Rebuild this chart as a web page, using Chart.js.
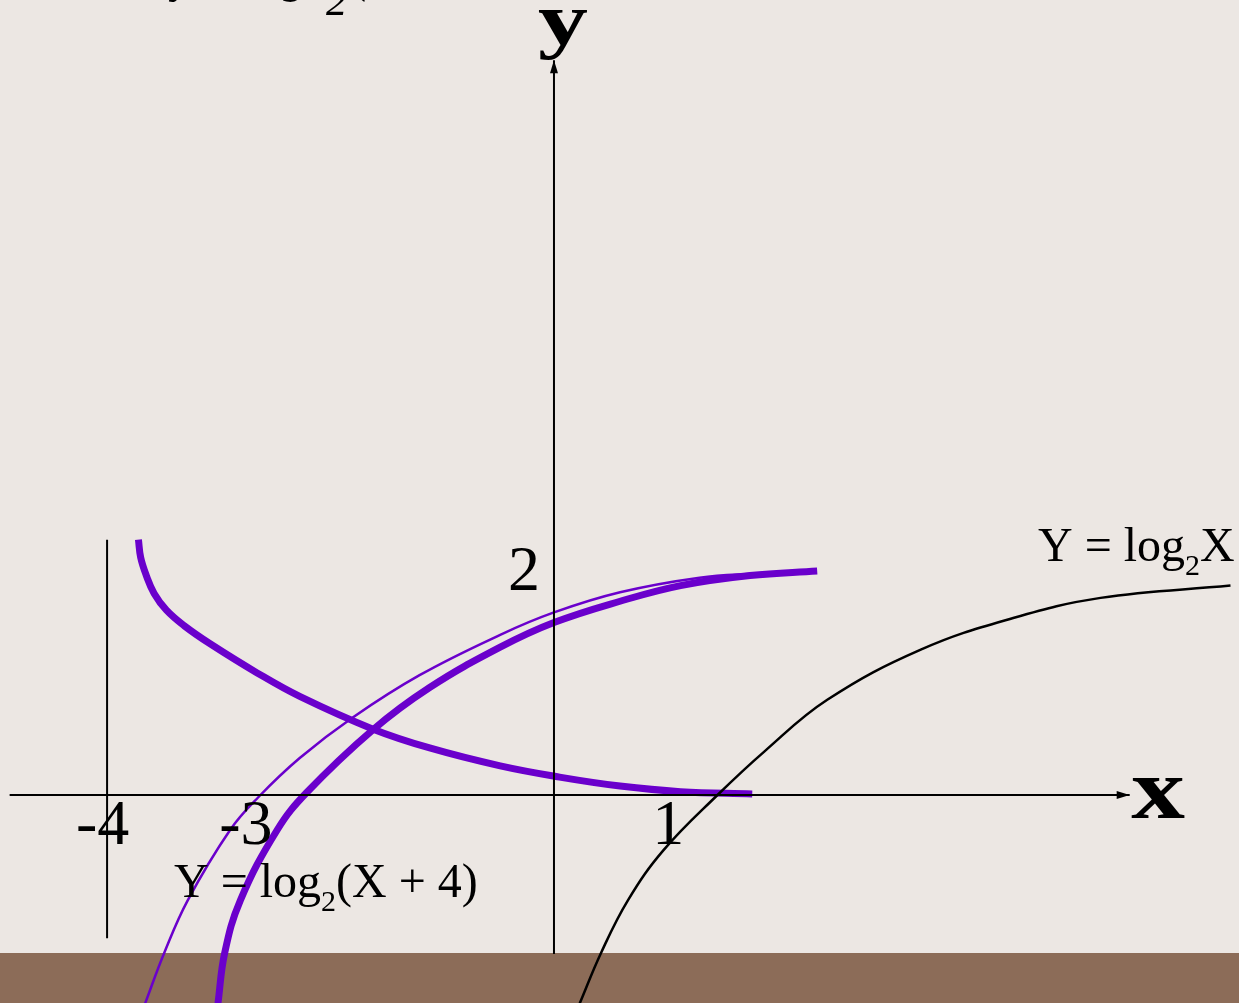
<!DOCTYPE html>
<html>
<head>
<meta charset="utf-8">
<script src="https://cdn.jsdelivr.net/npm/chart.js@4.4.1/dist/chart.umd.min.js"></script>
<style>
  html, body { margin: 0; padding: 0; background: #ece7e3; }
  canvas { display: block; }
</style>
</head>
<body>
<canvas id="logChart" width="1239" height="1003"></canvas>
<script>
// curves, in axis units (1 unit = one tick step)
const blackX = [0.23, 0.42, 0.66, 0.98, 1.46, 1.88, 2.44, 3.28, 4.10, 4.88, 6.04];
const blackY = [-1.86, -1.41, -0.94, -0.49, 0.00, 0.39, 0.85, 1.30, 1.58, 1.76, 1.87];

const thickX = [-3.00, -2.94, -2.80, -2.47, -2.21, -1.62, -1.11, -0.48, 0.00, 0.59, 1.13, 1.75, 2.35];
const thickY = [-1.86, -1.41, -0.94, -0.31, 0.02, 0.58, 0.96, 1.32, 1.54, 1.73, 1.87, 1.96, 2.00];

const thinX = [-3.65, -3.48, -3.27, -2.89, -2.64, -2.27, -1.80, -1.20, -0.48, 0.00, 0.59, 1.30, 1.84];
const thinY = [-1.86, -1.41, -0.94, -0.31, -0.02, 0.33, 0.69, 1.07, 1.43, 1.63, 1.81, 1.94, 1.98];

const fallX = [-3.71, -3.69, -3.64, -3.57, -3.46, -3.30, -3.07, -2.65, -2.27, -1.62, -1.11, -0.48, 0.05, 0.59, 1.13, 1.77];
const fallY = [2.28, 2.12, 1.96, 1.80, 1.65, 1.51, 1.35, 1.09, 0.88, 0.59, 0.42, 0.26, 0.16, 0.08, 0.03, 0.01];

// axes and the asymptote x = -4
const xAxisEnds = [-4.86, 5.14];
const yAxisEnds = [-1.42, 6.56];
const asymX = -3.99;
const asymEnds = [-1.28, 2.28];

// tick labels and where they sit
const xTickLabels = ["-4", "-3", "1"];
const xTickPos = [-4.03, -2.75, 1.02];
const yTickLabels = ["2"];
const yTickPos = [1.98];

const purple = "#6a00cc";

function pts(xs, ys) {
  return xs.map((x, i) => ({ x: x, y: ys[i] }));
}

const slide = {
  id: "slide",
  beforeDraw(chart) {
    const c = chart.ctx;
    c.save();
    c.fillStyle = "#ece7e3";
    c.fillRect(0, 0, chart.width, chart.height);
    c.restore();
  },
  beforeDatasetsDraw(chart) {
    const c = chart.ctx;
    c.save();
    c.fillStyle = "#8c6c58";
    c.fillRect(0, 953, chart.width, chart.height - 953);
    c.restore();
  },
  afterDatasetsDraw(chart) {
    const c = chart.ctx;
    const sx = chart.scales.x;
    const sy = chart.scales.y;
    c.save();
    c.fillStyle = "#000";

    // arrow heads
    const ox = sx.getPixelForValue(0);
    const oy = sy.getPixelForValue(0);
    const top = sy.getPixelForValue(yAxisEnds[1]);
    const right = sx.getPixelForValue(xAxisEnds[1]);
    c.beginPath();
    c.moveTo(ox, top);
    c.lineTo(ox - 4, top + 13);
    c.lineTo(ox + 4, top + 13);
    c.closePath();
    c.fill();
    c.beginPath();
    c.moveTo(right, oy);
    c.lineTo(right - 13, oy - 4);
    c.lineTo(right - 13, oy + 4);
    c.closePath();
    c.fill();

    // tick labels
    c.font = '64px "Liberation Serif"';
    c.textAlign = "center";
    c.textBaseline = "middle";
    xTickLabels.forEach((t, i) => {
      c.fillText(t, sx.getPixelForValue(xTickPos[i]), oy + 32);
    });
    yTickLabels.forEach((t, i) => {
      c.fillText(t, ox - 30, sy.getPixelForValue(yTickPos[i]));
    });

    // axis names
    c.save();
    c.font = 'bold 74px "Liberation Serif"';
    c.textBaseline = "alphabetic";
    c.translate(563, 44);
    c.scale(1.35, 1);
    c.fillText("y", 0, 0);
    c.restore();
    c.save();
    c.font = 'bold 86px "Liberation Serif"';
    c.textBaseline = "alphabetic";
    c.translate(1158, 818);
    c.scale(1.25, 1);
    c.fillText("x", 0, 0);
    c.restore();

    // curve names
    c.textAlign = "left";
    c.textBaseline = "alphabetic";
    function formula(x, y, before, after) {
      c.font = '48px "Liberation Serif"';
      c.fillText(before, x, y);
      let w = c.measureText(before).width;
      c.font = '30px "Liberation Serif"';
      c.fillText("2", x + w, y + 14);
      w += c.measureText("2").width;
      c.font = '48px "Liberation Serif"';
      c.fillText(after, x + w, y);
    }
    formula(1038, 561, "Y = log", "X");
    formula(174, 897, "Y = log", "(X + 4)");

    // title cut off at the top edge
    c.font = 'italic 46px "Liberation Serif"';
    c.textAlign = "right";
    c.fillText("y = log", 306, -8);
    c.textAlign = "left";
    c.font = 'italic 42px "Liberation Serif"';
    c.fillText("2", 326, 15);
    c.font = 'italic 46px "Liberation Serif"';
    c.fillText("(", 354, -8);
    c.restore();
  }
};

new Chart(document.getElementById("logChart"), {
  type: "scatter",
  data: {
    datasets: [
      { data: pts(xAxisEnds, [0, 0]), borderColor: "#000", borderWidth: 2 },
      { data: pts([0, 0], yAxisEnds), borderColor: "#000", borderWidth: 2 },
      { data: pts([asymX, asymX], asymEnds), borderColor: "#000", borderWidth: 2 },
      { data: pts(blackX, blackY), borderColor: "#000", borderWidth: 2.5 },
      { data: pts(thinX, thinY), borderColor: purple, borderWidth: 2.5 },
      { data: pts(thickX, thickY), borderColor: purple, borderWidth: 7 },
      { data: pts(fallX, fallY), borderColor: purple, borderWidth: 7 }
    ].map((d) => Object.assign(d, {
      showLine: true,
      pointRadius: 0,
      fill: false,
      tension: 0.4,
      borderCapStyle: "butt"
    }))
  },
  options: {
    responsive: false,
    animation: false,
    layout: { padding: 0 },
    plugins: {
      legend: { display: false },
      tooltip: { enabled: false }
    },
    scales: {
      x: { type: "linear", display: false, min: -4.946, max: 6.116 },
      y: { type: "linear", display: false, min: -1.857, max: 7.098 }
    }
  },
  plugins: [slide]
});
</script>
</body>
</html>
